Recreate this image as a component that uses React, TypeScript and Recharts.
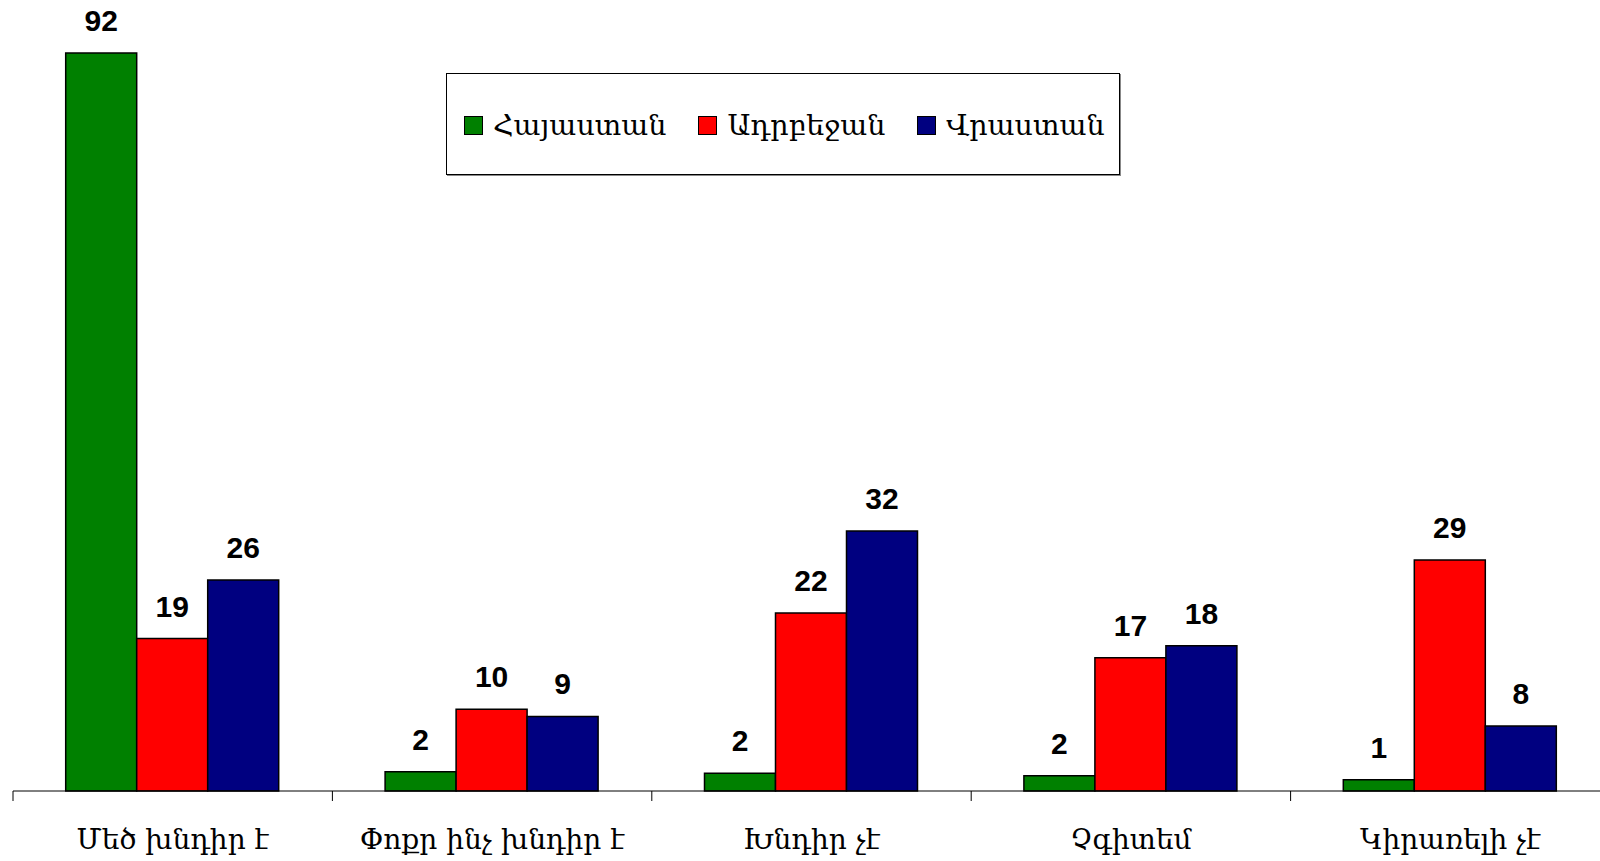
import React from "react";
import { BarChart, Bar, XAxis, YAxis, Legend, LabelList } from "recharts";

const categories = ["Մեծ խնդիր է", "Փոքր ինչ խնդիր է", "Խնդիր չէ", "Չգիտեմ", "Կիրառելի չէ"];
const armenia = [92, 2.4, 2.2, 1.9, 1.4];
const azerbaijan = [19, 10.2, 22.2, 16.6, 28.8];
const georgia = [26.3, 9.3, 32.4, 18.1, 8.1];
const seriesNames = ["Հայաստան", "Ադրբեջան", "Վրաստան"];
const seriesColors = ["#008000", "#FF0000", "#000080"];

const data = categories.map((c, i) => ({
  name: c,
  a: armenia[i],
  b: azerbaijan[i],
  c: georgia[i],
}));

const ARM_FONT = "'DejaVu Serif', serif";
const NUM_FONT = "'Liberation Sans', Arial, sans-serif";

const CustomTick = (props: any) => {
  const { x, y, payload } = props;
  const off = payload.offset || 0;
  return (
    <g>
      <line x1={x - off} y1={y - 10} x2={x - off} y2={y} stroke="#000" strokeWidth={1} />
      <text x={x} y={y + 48} textAnchor="middle" fontFamily={ARM_FONT} fontSize={28} fill="#000">
        {payload.value}
      </text>
    </g>
  );
};

const renderLegend = () => {
  return (
    <div
      style={{
        width: 674,
        height: 102,
        border: "1px solid #000",
        boxShadow: "1px 1px 0 #888",
        background: "#fff",
        display: "flex",
        alignItems: "center",
        paddingLeft: 17,
        paddingTop: 2,
        boxSizing: "border-box",
      }}
    >
      {seriesNames.map((name, i) => (
        <div key={i} style={{ display: "flex", alignItems: "center", marginRight: 32 }}>
          <div
            style={{
              width: 17,
              height: 17,
              background: seriesColors[i],
              border: "1px solid #000",
              marginRight: 10,
            }}
          />
          <span style={{ fontFamily: ARM_FONT, fontSize: 28.5, color: "#000", whiteSpace: "nowrap" }}>{name}</span>
        </div>
      ))}
    </div>
  );
};

const fmt = (v: any) => Number(v).toFixed(0);

export default function App() {
  return (
    <div
      style={{
        position: "fixed",
        left: 0,
        top: 0,
        width: 1600,
        height: 861,
        overflow: "hidden",
        background: "#fff",
      }}
    >
      <BarChart
        width={1610}
        height={861}
        data={data}
        margin={{ top: 53, right: 0, left: 13, bottom: 0 }}
        barCategoryGap="16.5%"
        barGap={0}
      >
        <XAxis
          dataKey="name"
          height={70}
          axisLine={{ stroke: "#000", strokeWidth: 1 }}
          tickLine={false}
          tickSize={10}
          tickMargin={0}
          interval={0}
          tick={<CustomTick />}
        />
        <YAxis hide domain={[0, 92]} />
        <Legend
          layout="vertical"
          align="center"
          verticalAlign="middle"
          content={renderLegend}
          wrapperStyle={{ left: 446, top: 73, width: 674, height: 102 }}
        />
        {["a", "b", "c"].map((k, i) => (
          <Bar
            key={k}
            dataKey={k}
            name={seriesNames[i]}
            fill={seriesColors[i]}
            stroke="#000"
            strokeWidth={1.5}
            isAnimationActive={false}
          >
            <LabelList
              dataKey={k}
              position="top"
              offset={22}
              formatter={fmt}
              style={{ fontFamily: NUM_FONT, fontSize: 30, fontWeight: "bold", fill: "#000" }}
            />
          </Bar>
        ))}
      </BarChart>
    </div>
  );
}
